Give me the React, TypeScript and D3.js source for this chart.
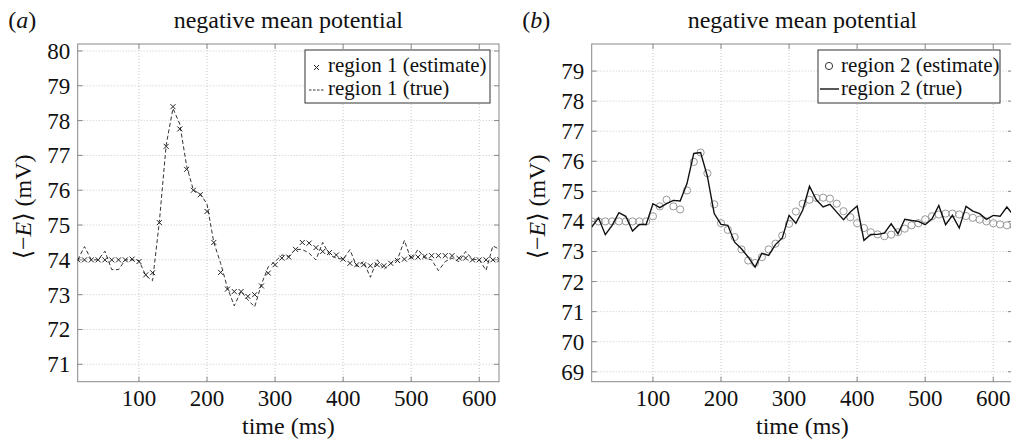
import * as d3 from "d3";

// sample times (ms)
const times = [
  10, 20, 30, 40, 50, 60, 70, 80, 90, 100,
  110, 120, 130, 140, 150, 160, 170, 180, 190, 200,
  210, 220, 230, 240, 250, 260, 270, 280, 290, 300,
  310, 320, 330, 340, 350, 360, 370, 380, 390, 400,
  410, 420, 430, 440, 450, 460, 470, 480, 490, 500,
  510, 520, 530, 540, 550, 560, 570, 580, 590, 600,
  610, 620, 630,
];

// panel (a): region 1
const region1Estimate = [
  74.0, 74.0, 74.0, 74.0, 74.0, 74.0, 74.0, 74.0, 74.02, 73.95,
  73.57, 73.63, 75.07, 77.26, 78.4, 77.76, 76.6, 76.0, 75.87, 75.39,
  74.5, 73.64, 73.16, 73.09, 73.09, 72.95, 73.0, 73.25, 73.62, 73.86,
  74.05, 74.08, 74.3, 74.5, 74.48, 74.35, 74.24, 74.21, 74.14, 74.02,
  73.9, 73.86, 73.86, 73.83, 73.86, 73.83, 73.9, 73.98, 74.02, 74.08,
  74.08, 74.1, 74.12, 74.12, 74.12, 74.12, 74.05, 74.05, 74.0, 74.0,
  74.0, 74.0, 74.0,
];
const region1True = [
  74.0, 74.38, 74.0, 74.0, 74.25, 73.72, 73.72, 74.0, 74.0, 73.98,
  73.55, 73.4, 75.1, 77.3, 78.35, 77.9, 76.7, 76.0, 75.9, 75.6,
  74.5, 73.9, 73.2, 72.68, 73.1, 72.85, 72.65, 73.3, 73.8, 73.95,
  74.14, 74.1, 74.3, 74.3, 74.19, 74.0, 74.5, 74.14, 74.05, 74.02,
  74.29, 73.81, 73.95, 73.5, 74.0, 73.73, 73.9, 74.02, 74.56, 74.0,
  74.3, 74.05, 74.0, 73.69, 73.95, 74.05, 73.95, 74.24, 74.02, 74.0,
  73.7, 74.4, 74.3,
];

// panel (b): region 2
const region2Estimate = [
  74.0, 74.0, 74.0, 74.0, 74.0, 74.0, 74.0, 74.0, 74.0, 74.17,
  74.5, 74.72, 74.5, 74.4, 75.03, 75.98, 76.29, 75.6, 74.57, 73.94,
  73.72, 73.48, 73.07, 72.7, 72.62, 72.81, 73.07, 73.26, 73.53, 73.92,
  74.33, 74.59, 74.72, 74.78, 74.79, 74.76, 74.59, 74.34, 74.14, 73.94,
  73.78, 73.64, 73.57, 73.51, 73.56, 73.64, 73.76, 73.87, 73.94, 74.07,
  74.17, 74.23, 74.26, 74.26, 74.23, 74.18, 74.12, 74.06, 74.0, 73.94,
  73.9, 73.87, 73.85,
];
const region2True = [
  73.81, 74.12, 73.56, 73.87, 74.29, 74.17, 73.68, 73.9, 73.9, 74.59,
  74.46, 74.59, 74.7, 74.68, 75.26, 76.26, 76.29, 75.5, 74.26, 73.9,
  73.87, 73.31, 73.09, 72.81, 72.48, 72.94, 72.87, 73.23, 73.45, 74.2,
  73.94, 74.37, 75.17, 74.72, 74.48, 74.57, 74.31, 74.06, 74.31, 74.51,
  73.37, 73.57, 73.57, 73.61, 73.92, 73.59, 74.07, 74.03, 74.0, 73.89,
  74.09, 74.53, 73.89, 74.2, 73.78, 74.5, 74.34, 74.26, 74.07, 74.2,
  74.17, 74.48, 74.2,
];

const xTicks = [100, 200, 300, 400, 500, 600];
const yTicksA = [71, 72, 73, 74, 75, 76, 77, 78, 79, 80];
const yTicksB = [69, 70, 71, 72, 73, 74, 75, 76, 77, 78, 79];

const FONT = "'Liberation Serif', 'Times New Roman', 'DejaVu Serif', serif";
const TOP = 44;
const BOTTOM = 381.7;
const X_DOMAIN: [number, number] = [10, 629];

type PanelProps = {
  id: string;
  tag: string;
  left: number;
  right: number;
  yDomain: [number, number];
  yTicks: number[];
  estimate: number[];
  truth: number[];
  kind: "cross" | "circle";
  legend: [string, string];
  legendX: number;
  legendW: number;
};

function Panel(p: PanelProps) {
  const x = d3.scaleLinear().domain(X_DOMAIN).range([p.left, p.right]);
  const y = d3.scaleLinear().domain(p.yDomain).range([BOTTOM, TOP]);
  const line = d3
    .line<number>()
    .x((_, i) => x(times[i]))
    .y((d) => y(d));
  const cx = (p.left + p.right) / 2;
  const lx = p.legendX;
  const ly = 50;

  return (
    <g fontFamily={FONT} fill="#111">
      <defs>
        <clipPath id={"clip" + p.id}>
          <rect x={p.left} y={TOP} width={p.right - p.left} height={BOTTOM - TOP} />
        </clipPath>
      </defs>
      {/* panel tag and title */}
      <text x={p.left - 69.5} y={28} fontSize={24}>
        (<tspan fontStyle="italic">{p.tag}</tspan>)
      </text>
      <text x={cx} y={28} fontSize={24} textAnchor="middle">
        negative mean potential
      </text>

      {/* grid */}
      {xTicks.map((t) => (
        <line key={"gx" + t} x1={x(t)} x2={x(t)} y1={TOP} y2={BOTTOM}
          stroke="#bbb" strokeWidth={0.8} strokeDasharray="1,2" />
      ))}
      {p.yTicks.map((t) => (
        <line key={"gy" + t} x1={p.left} x2={p.right} y1={y(t)} y2={y(t)}
          stroke="#bbb" strokeWidth={0.8} strokeDasharray="1,2" />
      ))}

      {/* box and ticks */}
      <rect x={p.left} y={TOP} width={p.right - p.left} height={BOTTOM - TOP}
        fill="none" stroke="#888" strokeWidth={1} />
      {xTicks.map((t) => (
        <g key={"tx" + t} stroke="#888">
          <line x1={x(t)} x2={x(t)} y1={BOTTOM} y2={BOTTOM - 5} />
          <line x1={x(t)} x2={x(t)} y1={TOP} y2={TOP + 5} />
        </g>
      ))}
      {p.yTicks.map((t) => (
        <g key={"ty" + t} stroke="#888">
          <line x1={p.left} x2={p.left + 5} y1={y(t)} y2={y(t)} />
          <line x1={p.right} x2={p.right - 5} y1={y(t)} y2={y(t)} />
        </g>
      ))}

      {/* tick labels */}
      {xTicks.map((t) => (
        <text key={"lx" + t} x={x(t)} y={406} fontSize={23} textAnchor="middle">
          {t}
        </text>
      ))}
      {p.yTicks.map((t) => (
        <text key={"ly" + t} x={p.left - 7.5} y={y(t) + 8} fontSize={23} textAnchor="end">
          {t}
        </text>
      ))}

      {/* axis labels */}
      <text x={cx} y={434} fontSize={24} textAnchor="middle">
        time (ms)
      </text>
      <text transform={`translate(${p.left - 47},${(TOP + BOTTOM) / 2 - 6}) rotate(-90)`}
        fontSize={24} textAnchor="middle">
        ⟨−<tspan fontStyle="italic">E</tspan>⟩ (mV)
      </text>

      {/* data */}
      <g clipPath={`url(#clip${p.id})`}>
        {p.kind === "cross" ? (
          <>
            <path d={line(p.truth) ?? ""} fill="none" stroke="#333"
              strokeWidth={1} strokeDasharray="4,2.5" />
            {p.estimate.map((v, i) => (
              <path key={i}
                d={`M${x(times[i]) - 2.5},${y(v) - 2.5}l5,5m0,-5l-5,5`}
                stroke="#222" strokeWidth={1} />
            ))}
          </>
        ) : (
          <>
            {p.estimate.map((v, i) => (
              <circle key={i} cx={x(times[i])} cy={y(v)} r={3.6}
                fill="none" stroke="#999" strokeWidth={1} />
            ))}
            <path d={line(p.truth) ?? ""} fill="none" stroke="#111" strokeWidth={1.4} />
          </>
        )}
      </g>

      {/* legend */}
      <rect x={lx} y={ly} width={p.legendW} height={53} fill="#fff" stroke="#333" strokeWidth={1} />
      {p.kind === "cross" ? (
        <>
          <path d={`M${lx + 9},${ly + 15}l5,5m0,-5l-5,5`} stroke="#222" strokeWidth={1} />
          <line x1={lx + 4} x2={lx + 19} y1={ly + 40} y2={ly + 40} stroke="#333"
            strokeWidth={1} strokeDasharray="2.5,1.5" />
        </>
      ) : (
        <>
          <circle cx={lx + 11} cy={ly + 16} r={3.6} fill="none" stroke="#333" strokeWidth={1} />
          <line x1={lx + 2} x2={lx + 21} y1={ly + 39} y2={ly + 39} stroke="#111" strokeWidth={1.4} />
        </>
      )}
      <text x={lx + 23} y={ly + 22} fontSize={21}>{p.legend[0]}</text>
      <text x={lx + 23} y={ly + 45} fontSize={21}>{p.legend[1]}</text>
    </g>
  );
}

export default function App() {
  return (
    <svg width={1011} height={443} style={{ display: "block", position: "absolute", left: 0, top: 0 }}>
      <rect width={1011} height={443} fill="#fff" />
      <Panel id="a" tag="a" left={77.7} right={499} yDomain={[70.5, 80.2]}
        yTicks={yTicksA} estimate={region1Estimate} truth={region1True}
        kind="cross" legend={["region 1 (estimate)", "region 1 (true)"]}
        legendX={305} legendW={185} />
      <Panel id="b" tag="b" left={591.7} right={1013} yDomain={[68.67, 79.9]}
        yTicks={yTicksB} estimate={region2Estimate} truth={region2True}
        kind="circle" legend={["region 2 (estimate)", "region 2 (true)"]}
        legendX={818} legendW={182} />
    </svg>
  );
}
